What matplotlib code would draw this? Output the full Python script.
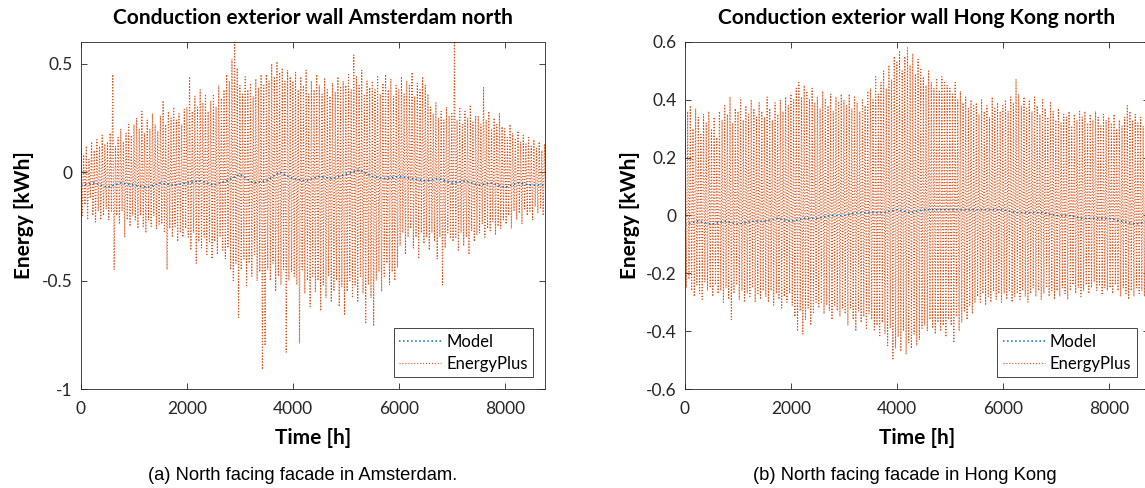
import numpy as np
import matplotlib
matplotlib.use("Agg")
import matplotlib.pyplot as plt

# ---------------- data ----------------
STEP = 50  # hours between successive high samples of the EnergyPlus trace

# Amsterdam north, EnergyPlus: local highs / lows, one every 50 h
ams_ep_high = [
    0.10, 0.08, 0.12, 0.06, 0.14, 0.10, 0.15, 0.12, 0.17, 0.13,
    0.14, 0.18, 0.45, 0.12, 0.16, 0.20, 0.14, 0.18, 0.22, 0.17,
    0.22, 0.25, 0.20, 0.28, 0.18, 0.24, 0.20, 0.27, 0.22, 0.19,
    0.26, 0.33, 0.22, 0.28, 0.25, 0.30, 0.24, 0.27, 0.22, 0.29,
    0.30, 0.44, 0.28, 0.35, 0.30, 0.38, 0.32, 0.36, 0.28, 0.33,
    0.36, 0.30, 0.40, 0.34, 0.38, 0.45, 0.42, 0.52, 0.60, 0.48,
    0.40, 0.36, 0.44, 0.38, 0.41, 0.35, 0.43, 0.39, 0.45, 0.40,
    0.45, 0.42, 0.50, 0.44, 0.51, 0.46, 0.48, 0.42, 0.47, 0.44,
    0.42, 0.46, 0.38, 0.44, 0.40, 0.47, 0.36, 0.42, 0.38, 0.45,
    0.40, 0.36, 0.43, 0.38, 0.35, 0.41, 0.37, 0.44, 0.39, 0.42,
    0.40, 0.45, 0.38, 0.54, 0.44, 0.40, 0.47, 0.36, 0.42, 0.39,
    0.42, 0.38, 0.44, 0.36, 0.41, 0.45, 0.38, 0.43, 0.35, 0.40,
    0.38, 0.44, 0.36, 0.42, 0.40, 0.46, 0.35, 0.41, 0.38, 0.44,
    0.40, 0.36, 0.30, 0.27, 0.32, 0.25, 0.28, 0.24, 0.30, 0.26,
    0.27, 0.61, 0.24, 0.30, 0.22, 0.28, 0.25, 0.31, 0.23, 0.26,
    0.26, 0.22, 0.39, 0.24, 0.28, 0.20, 0.25, 0.22, 0.27, 0.21,
    0.20, 0.16, 0.22, 0.18, 0.15, 0.19, 0.14, 0.17, 0.13, 0.16,
    0.12, 0.15, 0.11, 0.14, 0.10, 0.13,
]
ams_ep_low = [
    -0.20, -0.15, -0.22, -0.12, -0.20, -0.23, -0.18, -0.22, -0.20, -0.17,
    -0.22, -0.18, -0.45, -0.20, -0.24, -0.18, -0.30, -0.22, -0.25, -0.20,
    -0.22, -0.26, -0.20, -0.25, -0.28, -0.22, -0.25, -0.20, -0.26, -0.24,
    -0.24, -0.28, -0.45, -0.26, -0.30, -0.25, -0.32, -0.28, -0.30, -0.26,
    -0.30, -0.36, -0.28, -0.42, -0.32, -0.35, -0.30, -0.38, -0.32, -0.40,
    -0.32, -0.38, -0.30, -0.36, -0.40, -0.35, -0.45, -0.50, -0.42, -0.67,
    -0.45, -0.40, -0.53, -0.42, -0.48, -0.38, -0.50, -0.46, -0.91, -0.80,
    -0.45, -0.50, -0.42, -0.55, -0.48, -0.52, -0.45, -0.83, -0.50, -0.46,
    -0.48, -0.52, -0.79, -0.45, -0.56, -0.50, -0.62, -0.48, -0.55, -0.50,
    -0.64, -0.52, -0.58, -0.48, -0.60, -0.55, -0.50, -0.62, -0.53, -0.66,
    -0.55, -0.50, -0.58, -0.52, -0.60, -0.48, -0.56, -0.70, -0.52, -0.58,
    -0.71, -0.50, -0.46, -0.55, -0.48, -0.42, -0.52, -0.46, -0.50, -0.44,
    -0.34, -0.28, -0.38, -0.30, -0.26, -0.35, -0.30, -0.40, -0.28, -0.33,
    -0.30, -0.36, -0.28, -0.32, -0.40, -0.30, -0.52, -0.35, -0.28, -0.30,
    -0.32, -0.30, -0.36, -0.28, -0.34, -0.30, -0.38, -0.27, -0.32, -0.29,
    -0.28, -0.24, -0.30, -0.26, -0.27, -0.23, -0.29, -0.25, -0.26, -0.22,
    -0.24, -0.20, -0.26, -0.18, -0.22, -0.19, -0.24, -0.17, -0.20, -0.18,
    -0.22, -0.16, -0.19, -0.17, -0.20, -0.15,
]
# Amsterdam north, Model: one value every 250 h
MODEL_STEP = 250
ams_model = [
    -0.06, -0.05, -0.07, -0.05, -0.06, -0.07, -0.05, -0.06, -0.05, -0.04,
    -0.06, -0.04, -0.01, -0.05, -0.04, 0.00, -0.03, -0.04, -0.02, -0.03,
    -0.01, 0.01, -0.02, -0.03, -0.02, -0.03, -0.04, -0.03, -0.05, -0.04,
    -0.06, -0.05, -0.07, -0.05, -0.06, -0.06,
]

# Hong Kong north, EnergyPlus
hk_ep_high = [
    0.33, 0.36, 0.38, 0.30, 0.37, 0.34, 0.28, 0.35, 0.32, 0.36,
    0.30, 0.34, 0.27, 0.36, 0.33, 0.38, 0.35, 0.41, 0.32, 0.37,
    0.36, 0.40, 0.33, 0.38, 0.35, 0.40, 0.37, 0.34, 0.39, 0.36,
    0.34, 0.41, 0.37, 0.33, 0.39, 0.35, 0.40, 0.36, 0.41, 0.38,
    0.42, 0.40, 0.44, 0.46, 0.41, 0.45, 0.43, 0.40, 0.44, 0.39,
    0.41, 0.37, 0.43, 0.40, 0.38, 0.42, 0.36, 0.41, 0.39, 0.42,
    0.40, 0.38, 0.42, 0.37, 0.41, 0.39, 0.36, 0.40, 0.38, 0.43,
    0.44, 0.40, 0.48, 0.42, 0.46, 0.50, 0.44, 0.52, 0.47, 0.55,
    0.53, 0.57, 0.50, 0.55, 0.58, 0.52, 0.56, 0.49, 0.54, 0.51,
    0.48, 0.45, 0.50, 0.46, 0.44, 0.47, 0.43, 0.48, 0.46, 0.45,
    0.44, 0.42, 0.46, 0.40, 0.43, 0.39, 0.41, 0.37, 0.40, 0.38,
    0.39, 0.35, 0.40, 0.36, 0.38, 0.34, 0.41, 0.37, 0.39, 0.36,
    0.38, 0.40, 0.36, 0.41, 0.39, 0.47, 0.42, 0.38, 0.41, 0.37,
    0.40, 0.36, 0.41, 0.38, 0.35, 0.40, 0.37, 0.34, 0.39, 0.36,
    0.33, 0.37, 0.32, 0.35, 0.34, 0.36, 0.31, 0.35, 0.33, 0.36,
    0.34, 0.36, 0.32, 0.35, 0.33, 0.36, 0.34, 0.31, 0.35, 0.33,
    0.34, 0.32, 0.35, 0.30, 0.33, 0.31, 0.34, 0.38, 0.36, 0.33,
    0.35, 0.32, 0.34, 0.31, 0.35, 0.33,
]
hk_ep_low = [
    -0.25, -0.22, -0.26, -0.28, -0.24, -0.27, -0.29, -0.23, -0.26, -0.25,
    -0.28, -0.24, -0.27, -0.26, -0.30, -0.25, -0.29, -0.36, -0.27, -0.24,
    -0.29, -0.26, -0.30, -0.27, -0.28, -0.25, -0.30, -0.27, -0.29, -0.26,
    -0.28, -0.30, -0.26, -0.31, -0.27, -0.29, -0.32, -0.28, -0.30, -0.27,
    -0.31, -0.35, -0.40, -0.33, -0.41, -0.36, -0.32, -0.38, -0.34, -0.30,
    -0.32, -0.30, -0.34, -0.31, -0.33, -0.36, -0.31, -0.33, -0.35, -0.32,
    -0.34, -0.38, -0.32, -0.36, -0.40, -0.33, -0.37, -0.35, -0.39, -0.34,
    -0.36, -0.40, -0.38, -0.42, -0.37, -0.41, -0.45, -0.39, -0.50, -0.46,
    -0.42, -0.47, -0.40, -0.48, -0.44, -0.46, -0.41, -0.45, -0.43, -0.39,
    -0.38, -0.40, -0.36, -0.39, -0.41, -0.37, -0.40, -0.38, -0.42, -0.36,
    -0.38, -0.44, -0.35, -0.40, -0.37, -0.33, -0.36, -0.31, -0.34, -0.30,
    -0.28, -0.30, -0.27, -0.31, -0.28, -0.30, -0.26, -0.29, -0.27, -0.30,
    -0.27, -0.29, -0.26, -0.30, -0.28, -0.27, -0.29, -0.26, -0.28, -0.30,
    -0.27, -0.25, -0.28, -0.26, -0.29, -0.27, -0.25, -0.28, -0.26, -0.29,
    -0.26, -0.28, -0.25, -0.27, -0.29, -0.26, -0.24, -0.27, -0.25, -0.28,
    -0.26, -0.24, -0.27, -0.25, -0.23, -0.26, -0.24, -0.27, -0.25, -0.26,
    -0.25, -0.27, -0.24, -0.26, -0.28, -0.25, -0.27, -0.29, -0.26, -0.28,
    -0.25, -0.27, -0.26, -0.28, -0.25, -0.27,
]
hk_model = [
    -0.03, -0.02, -0.03, -0.02, -0.03, -0.02, -0.02, -0.01, -0.02, -0.01,
    -0.01, 0.00, 0.00, 0.01, 0.01, 0.01, 0.02, 0.01, 0.02, 0.02,
    0.02, 0.02, 0.02, 0.02, 0.02, 0.01, 0.01, 0.01, 0.00, 0.00,
    -0.01, -0.01, -0.01, -0.02, -0.03, -0.02,
]

titles = ["Conduction exterior wall Amsterdam north",
          "Conduction exterior wall Hong Kong north"]
captions = ["(a) North facing facade in Amsterdam.",
            "(b) North facing facade in Hong Kong"]
series_names = ["Model", "EnergyPlus"]
x_label = "Time [h]"
y_label = "Energy [kWh]"
x_ticks = [0, 2000, 4000, 6000, 8000]
y_ticks_list = [[-1, -0.5, 0, 0.5], [-0.6, -0.4, -0.2, 0, 0.2, 0.4, 0.6]]
y_ticklabels_list = [["-1", "-0.5", "0", "0.5"],
                     ["-0.6", "-0.4", "-0.2", "0", "0.2", "0.4", "0.6"]]
y_limits = [(-1.0, 0.6), (-0.6, 0.6)]
x_limit = (0, 8760)

# ---------------- styling ----------------
MODEL_COLOR = "#0072BD"
EP_COLOR = "#D95319"
AX_COLOR = "#262626"
FONT = ["Lato", "DejaVu Sans"]
CAP_FONT = ["Liberation Sans", "DejaVu Sans"]


def interleave(high, low, step):
    high = np.asarray(high, float)
    low = np.asarray(low, float)
    t = np.empty(2 * len(high))
    v = np.empty(2 * len(high))
    t[0::2] = np.arange(len(high)) * step
    t[1::2] = np.arange(len(high)) * step + step / 2
    v[0::2] = high
    v[1::2] = low
    return t, v


fig = plt.figure(figsize=(11.45, 4.88), dpi=100)

panels = [
    (ams_ep_high, ams_ep_low, ams_model),
    (hk_ep_high, hk_ep_low, hk_model),
]
lefts = [81 / 1145, 685 / 1145]
W = 464 / 1145
B = 1 - 389 / 488
H = 347 / 488
ylabel_x = [(24 - 81) / 464, (630 - 685) / 464]
caption_x = [303 / 1145, 905 / 1145]

for i, (hi, lo, model) in enumerate(panels):
    ax = fig.add_axes([lefts[i], B, W, H])
    t_ep, v_ep = interleave(hi, lo, STEP)
    t_m = np.arange(len(model)) * MODEL_STEP
    t_m = np.minimum(t_m, x_limit[1])
    l_ep, = ax.plot(t_ep, v_ep, linestyle=":", color=EP_COLOR, lw=0.8,
                    zorder=2, label=series_names[1])
    l_m, = ax.plot(t_m, model, linestyle=":", color=MODEL_COLOR, lw=1.1,
                   zorder=3, label=series_names[0])
    ax.set_xlim(*x_limit)
    ax.set_ylim(*y_limits[i])
    ax.set_xticks(x_ticks)
    ax.set_xticklabels([str(x) for x in x_ticks])
    ax.set_yticks(y_ticks_list[i])
    ax.set_yticklabels(y_ticklabels_list[i])
    ax.tick_params(direction="in", top=True, right=True, length=4,
                   width=0.6, colors=AX_COLOR, labelsize=12.5)
    ax.tick_params(axis="x", pad=9)
    ax.tick_params(axis="y", pad=6)
    for lab in ax.get_xticklabels() + ax.get_yticklabels():
        lab.set_family(FONT)
    for sp in ax.spines.values():
        sp.set_color(AX_COLOR)
        sp.set_linewidth(0.6)
    ax.set_title(titles[i], family=FONT, fontweight="bold", fontsize=15,
                 color="black", pad=13)
    ax.set_xlabel(x_label, family=FONT, fontweight="bold", fontsize=15)
    ax.xaxis.label.set_va("center")
    ax.xaxis.set_label_coords(0.5, -(438 - 389) / 347)
    ax.set_ylabel(y_label, family=FONT, fontweight="bold", fontsize=15)
    ax.yaxis.label.set_va("center")
    ax.yaxis.set_label_coords(ylabel_x[i], 0.5)
    leg = ax.legend(handles=[l_m, l_ep], loc="lower right",
                    prop={"family": FONT, "size": 12}, frameon=True,
                    fancybox=False, edgecolor=AX_COLOR, framealpha=1,
                    borderaxespad=0.7, handlelength=2.5, handletextpad=0.3,
                    labelspacing=0.35, borderpad=0.35)
    leg.get_frame().set_linewidth(0.6)
    fig.text(caption_x[i], 1 - 476 / 488, captions[i], ha="center",
             va="center", family=CAP_FONT, fontsize=13.2, color="black")

fig.savefig("out.png", dpi=100)
